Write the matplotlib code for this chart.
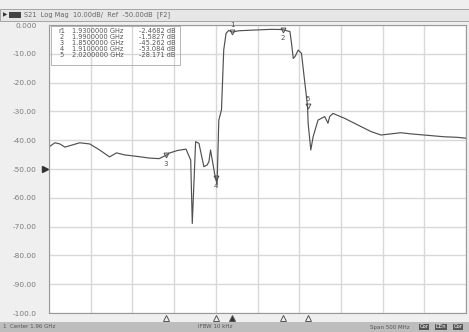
import numpy as np
import matplotlib
matplotlib.use("Agg")
import matplotlib.pyplot as plt
import matplotlib.transforms as mtransforms

# 频率 (GHz) 与 S21 幅度 (dB), 从截图读取
freq = [1.710, 1.7171, 1.7231, 1.7290, 1.7374, 1.7469, 1.7588, 1.7707, 1.7826, 1.7910,
        1.8005, 1.8124, 1.8302, 1.8421, 1.8500, 1.8540, 1.8636, 1.8743, 1.8799, 1.8818,
        1.8858, 1.8898, 1.8957, 1.8996, 1.9017, 1.9037, 1.9088, 1.9100, 1.9115, 1.9136,
        1.9168, 1.9195, 1.9223, 1.9255, 1.9300, 1.9374, 1.9573, 1.9767, 1.9900, 1.9989,
        2.0008, 2.0029, 2.0049, 2.0088, 2.0127, 2.0168, 2.0200, 2.0207, 2.0239, 2.0267,
        2.0326, 2.0406, 2.0445, 2.0465, 2.0505, 2.0644, 2.0802, 2.0961, 2.1080, 2.1199,
        2.1318, 2.1437, 2.1596, 2.1834, 2.1993, 2.2100]
s21 = [-42.3, -40.9, -41.3, -42.4, -41.7, -40.9, -41.3, -43.4, -45.8, -44.4,
       -45.1, -45.5, -46.2, -46.4, -45.3, -44.5, -43.6, -43.1, -46.9, -68.9,
       -40.5, -41.1, -49.2, -48.6, -47.5, -43.4, -52.0, -53.1, -55.5, -33.0,
       -29.5, -8.7, -2.9, -1.9, -2.47, -2.0, -1.74, -1.5, -1.58, -2.3,
       -6.4, -11.6, -11.0, -8.7, -9.8, -20.2, -28.17, -34.1, -43.4, -38.8,
       -33.0, -31.8, -34.1, -31.8, -30.7, -32.4, -34.7, -37.0, -38.2, -37.8,
       -37.4, -37.8, -38.2, -38.8, -39.0, -39.3]

# 标记点
mk_id = ["1", "2", "3", "4", "5"]
mk_freq = [1.93, 1.99, 1.85, 1.91, 2.02]
mk_val = [-2.4682, -1.5827, -45.262, -53.084, -28.171]
mk_below = [False, True, True, True, False]

y_ticks = [0, -10, -20, -30, -40, -50, -60, -70, -80, -90, -100]
y_labels = ["0.000", "-10.00", "-20.00", "-30.00", "-40.00", "-50.00",
            "-60.00", "-70.00", "-80.00", "-90.00", "-100.0"]

W, H = 469, 332
fig = plt.figure(figsize=(W / 100, H / 100), dpi=100, facecolor="#efefef")
ax = fig.add_axes([49 / W, (H - 313) / H, 417 / W, 288 / H])
ax.set_facecolor("white")

ax.set_xlim(1.71, 2.21)
ax.set_ylim(-100, 0)
ax.set_xticks(np.linspace(1.71, 2.21, 11))
ax.set_yticks(y_ticks)
ax.set_xticklabels([])
ax.set_yticklabels(y_labels, fontsize=5.3, color="#7a7a7a")
ax.tick_params(length=0, pad=9)
ax.grid(True, color="#d8d8d8", lw=1.0)
for s in ax.spines.values():
    s.set_color("#999999")
    s.set_linewidth(0.8)

ax.plot(freq, s21, color="#505050", lw=0.85)

# 标记符号
for mid, f, v, below in zip(mk_id, mk_freq, mk_val, mk_below):
    ax.plot(f, v, marker="v", ms=3.5, mfc="none", mec="#505050", mew=0.7)
    if below:
        ax.text(f, v - 1.8, mid, fontsize=5, color="#505050", ha="center", va="top")
    else:
        ax.text(f, v + 1.5, mid, fontsize=5, color="#505050", ha="center", va="bottom")

# 底部三角
trans = mtransforms.blended_transform_factory(ax.transData, ax.transAxes)
for i, f in enumerate(mk_freq):
    ax.plot(f, -0.018, marker="^", ms=4, clip_on=False, transform=trans,
            mfc="#333333" if i == 0 else "none", mec="#555555", mew=0.7)

# 参考电平箭头
ax.plot(-0.01, 0.5, marker=">", ms=4, color="#333333", clip_on=False, transform=ax.transAxes)

# 标记表格
ax.add_patch(plt.Rectangle((0.004, 1 - 40 / 288), 0.31, 39 / 288, transform=ax.transAxes,
                           facecolor="none", edgecolor="#aaaaaa", lw=0.6, zorder=3))
rows = [("r1", "1.9300000 GHz", "-2.4682 dB"),
        ("2", "1.9900000 GHz", "-1.5827 dB"),
        ("3", "1.8500000 GHz", "-45.262 dB"),
        ("4", "1.9100000 GHz", "-53.084 dB"),
        ("5", "2.0200000 GHz", "-28.171 dB")]
for i, (a, b, c) in enumerate(rows):
    yy = 1 - (31 + 6 * i - 25) / 288
    kw = dict(transform=ax.transAxes, fontsize=4.8, color="#555555", va="center", zorder=4)
    ax.text(0.03, yy, a, ha="center", **kw)
    ax.text(0.055, yy, b, **kw)
    ax.text(0.215, yy, c, **kw)

# 顶部标题栏
fig.patches.append(plt.Rectangle((0, (H - 21) / H), 1, 12 / H, transform=fig.transFigure,
                                 facecolor="#e6e6e6", edgecolor="#999999", lw=0.6))
fig.patches.append(plt.Rectangle((9 / W, (H - 18) / H), 12 / W, 6 / H, transform=fig.transFigure,
                                 facecolor="#444444", edgecolor="none"))
fig.text(3 / W, 1 - 15 / H, "▶", fontsize=4, color="#333333", va="center")
fig.text(24 / W, 1 - 15 / H, "S21  Log Mag  10.00dB/  Ref  -50.00dB  [F2]",
         fontsize=4.8, color="#666666", va="center")

# 底部状态栏
fig.patches.append(plt.Rectangle((0, 0), 1, 10 / H, transform=fig.transFigure,
                                 facecolor="#bdbdbd", edgecolor="none"))
fig.text(3 / W, 5 / H, "1  Center 1.96 GHz", fontsize=4, color="#555555", va="center")
fig.text(198 / W, 5 / H, "IFBW 10 kHz", fontsize=4, color="#555555", va="center")
fig.text(370 / W, 5 / H, "Span 500 MHz", fontsize=4, color="#555555", va="center")
for x0, t in zip([417, 434, 451], ["Cor", "DEn", "Cor"]):
    fig.text((x0 + 7) / W, 5 / H, t, fontsize=3.8, color="white", va="center", ha="center",
             bbox=dict(boxstyle="square,pad=0.15", fc="#555555", ec="none"))

fig.savefig("out.png", dpi=100, facecolor=fig.get_facecolor())
